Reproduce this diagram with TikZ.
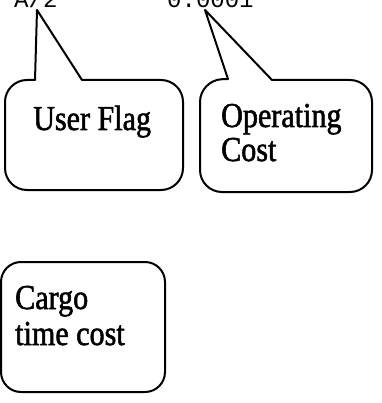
\documentclass[tikz,border=0pt]{standalone}
\usepackage{fontspec}
\setmainfont{Liberation Serif}
\setmonofont{Liberation Mono}
\newfontfamily\labelfont{Liberation Serif}[FakeStretch=0.86, FakeBold=1.5]
\begin{document}
\begin{tikzpicture}[x=1pt,y=-1pt,
  callout/.style={line width=2pt, line join=round, draw=black},
  label/.style={anchor=base west, inner sep=0pt, font=\labelfont\fontsize{35}{40}\selectfont},
  value/.style={anchor=base west, inner sep=0pt, font=\ttfamily\fontsize{24}{28}\selectfont}]
\useasboundingbox (0,0) rectangle (381,403);
\clip (0,0) rectangle (381,403);

% values shown in the table row above
\node[value] (flagval) at (14,8) {A/2};
\node[value] (costval) at (167,8) {0.0001};
\coordinate (flagtip) at (37,10);
\coordinate (costtip) at (205,10);

% callout: user flag
\draw[callout] (flagtip) -- (35,80) [rounded corners=22pt] -- (5,80) -- (5,190) -- (183,190) -- (183,80) [sharp corners] -- (82,80) -- cycle;
\node[label] (userflag) at (33,130) {User Flag};

% callout: operating cost
\draw[callout] (costtip) -- (228,79) [rounded corners=22pt] -- (200,80) -- (200,192) -- (372,192) -- (372,80) [sharp corners] -- (272,80) -- cycle;
\node[label] (operating) at (221,127) {Operating};
\node[label] (cost) at (221,161) {Cost};

% plain box: cargo time cost
\draw[callout, rounded corners=20pt] (1,262) rectangle (165,392);
\node[label] (cargo) at (15,309) {Cargo};
\node[label] (timecost) at (15,345) {time cost};
\end{tikzpicture}
\end{document}
